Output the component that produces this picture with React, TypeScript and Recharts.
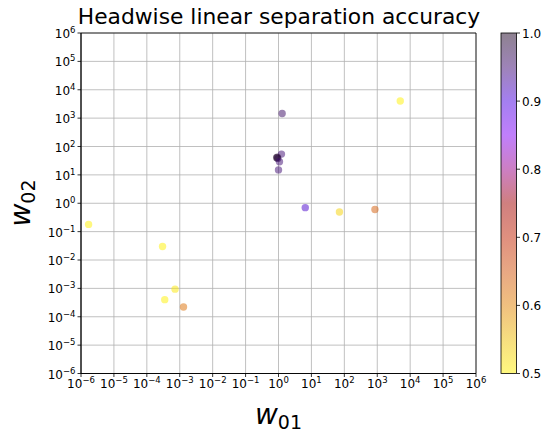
import { ScatterChart, Scatter, XAxis, YAxis, CartesianGrid, ReferenceArea, Cell } from "recharts";

// w01 / w02 per head, and the linear separation accuracy (colour)
const W01 = [1.7e-6, 3.0e-4, 7.2e-4, 3.5e-4, 1.3e-3, 5000, 71, 850, 1.29, 1.23, 0.88, 0.92, 0.95, 1.07, 1.0, 6.5];
const W02 = [0.18, 0.03, 9.4e-4, 4e-4, 2.2e-4, 4000, 0.49, 0.6, 1450, 54, 40, 42, 38, 29, 15, 0.7];
const ACC = [0.5, 0.5, 0.51, 0.5, 0.62, 0.5, 0.53, 0.64, 0.96, 0.95, 1.0, 0.99, 0.98, 0.95, 0.95, 0.91];

const EXPONENTS = [-6, -5, -4, -3, -2, -1, 0, 1, 2, 3, 4, 5, 6];
const TICKS = EXPONENTS.map((e) => Math.pow(10, e));
const CBAR_TICKS = [0.5, 0.6, 0.7, 0.8, 0.9, 1.0];

// colormap (drawn at 50% alpha, like the scatter)
const CMAP: [number, string][] = [
  [0.5, "#fff200"],
  [0.55, "#eebd01"],
  [0.6, "#e18101"],
  [0.65, "#d15109"],
  [0.7, "#c12100"],
  [0.75, "#a10100"],
  [0.8, "#990089"],
  [0.85, "#8100f9"],
  [0.9, "#4900e1"],
  [0.95, "#3d0971"],
  [1.0, "#1d0522"],
];

function hex(c: string) {
  return [1, 3, 5].map((i) => parseInt(c.slice(i, i + 2), 16));
}

function colorFor(v: number) {
  for (let i = 0; i < CMAP.length - 1; i++) {
    const [v0, c0] = CMAP[i];
    const [v1, c1] = CMAP[i + 1];
    if (v <= v1 || i === CMAP.length - 2) {
      const t = Math.max(0, Math.min(1, (v - v0) / (v1 - v0)));
      const a = hex(c0);
      const b = hex(c1);
      const m = a.map((x, k) => Math.round(x + (b[k] - x) * t));
      return `rgb(${m[0]},${m[1]},${m[2]})`;
    }
  }
  return CMAP[0][1];
}

const data = W01.map((x, i) => ({ x, y: W02[i], acc: ACC[i] }));

const FONT = "'DejaVu Sans', sans-serif";

function expLabel(v: number) {
  const e = Math.round(Math.log10(v));
  return e < 0 ? `\u2212${-e}` : `${e}`;
}

const XTick = (props: any) => {
  const { x, y, payload } = props;
  return (
    <text x={x} y={y} dy={9} textAnchor="middle" fontFamily={FONT} fontSize={12} fill="#000">
      10<tspan dy={-5} fontSize={8.5}>{expLabel(payload.value)}</tspan>
    </text>
  );
};

const YTick = (props: any) => {
  const { x, y, payload } = props;
  return (
    <text x={x} y={y} dy={5} textAnchor="end" fontFamily={FONT} fontSize={12} fill="#000">
      10<tspan dy={-5} fontSize={8.5}>{expLabel(payload.value)}</tspan>
    </text>
  );
};

const Dot = (props: any) => {
  const { cx, cy, fill } = props;
  return <circle cx={cx} cy={cy} r={3.7} fill={fill} fillOpacity={0.5} />;
};

export default function App() {
  const cbTop = 33;
  const cbBottom = 373.5;
  const cbY = (v: number) => cbBottom - ((v - 0.5) / 0.5) * (cbBottom - cbTop);
  return (
    <div style={{ position: "absolute", left: 0, top: 0, width: 555, height: 433, background: "#fff" }}>
      <ScatterChart width={555} height={433} margin={{ top: 33, right: 79, left: 11, bottom: 29.5 }}>
        <CartesianGrid stroke="#b0b0b0" strokeWidth={0.8} horizontalValues={TICKS} verticalValues={TICKS} />
        <XAxis
          type="number"
          dataKey="x"
          scale="log"
          domain={[1e-6, 1e6]}
          ticks={TICKS}
          allowDataOverflow
          height={30}
          tickSize={3.5}
          tickLine={{ stroke: "#000", strokeWidth: 0.8 }}
          axisLine={{ stroke: "#000", strokeWidth: 0.8 }}
          tick={<XTick />}
          interval={0}
        />
        <YAxis
          type="number"
          dataKey="y"
          scale="log"
          domain={[1e-6, 1e6]}
          ticks={TICKS}
          allowDataOverflow
          width={70}
          tickSize={3.5}
          tickLine={{ stroke: "#000", strokeWidth: 0.8 }}
          axisLine={{ stroke: "#000", strokeWidth: 0.8 }}
          tick={<YTick />}
          interval={0}
        />
        <ReferenceArea x1={1e-6} x2={1e6} y1={1e-6} y2={1e6} fill="none" stroke="#000" strokeWidth={0.8} ifOverflow="visible" />
        <Scatter data={data} shape={<Dot />} isAnimationActive={false}>
          {data.map((d, i) => (
            <Cell key={i} fill={colorFor(d.acc)} />
          ))}
        </Scatter>
      </ScatterChart>
      <svg width={555} height={433} style={{ position: "absolute", left: 0, top: 0, pointerEvents: "none" }}>
        <defs>
          <linearGradient id="cmap" x1="0" y1="1" x2="0" y2="0">
            {CMAP.map(([v, c]) => (
              <stop key={v} offset={`${(v - 0.5) / 0.5}`} stopColor={c} />
            ))}
          </linearGradient>
        </defs>
        <text x={279} y={24} textAnchor="middle" fontFamily={FONT} fontSize={21.8} fill="#000">
          Headwise linear separation accuracy
        </text>
        <text x={278.5} y={424} textAnchor="middle" fontFamily={FONT} fontSize={28} fill="#000">
          <tspan fontStyle="italic">w</tspan>
          <tspan dy={5} fontSize={19}>01</tspan>
        </text>
        <text
          transform="translate(30,203) rotate(-90)"
          textAnchor="middle"
          fontFamily={FONT}
          fontSize={28}
          fill="#000"
        >
          <tspan fontStyle="italic">w</tspan>
          <tspan dy={5} fontSize={19}>02</tspan>
        </text>
        <rect x={501} y={cbTop} width={15.5} height={cbBottom - cbTop} fill="url(#cmap)" fillOpacity={0.5} />
        <rect x={501} y={cbTop} width={15.5} height={cbBottom - cbTop} fill="none" stroke="#000" strokeWidth={0.8} />
        {CBAR_TICKS.map((t) => (
          <g key={t}>
            <line x1={516.5} x2={520} y1={cbY(t)} y2={cbY(t)} stroke="#000" strokeWidth={0.8} />
            <text x={522} y={cbY(t)} dy={4.5} fontFamily={FONT} fontSize={12} fill="#000">
              {t.toFixed(1)}
            </text>
          </g>
        ))}
      </svg>
    </div>
  );
}
